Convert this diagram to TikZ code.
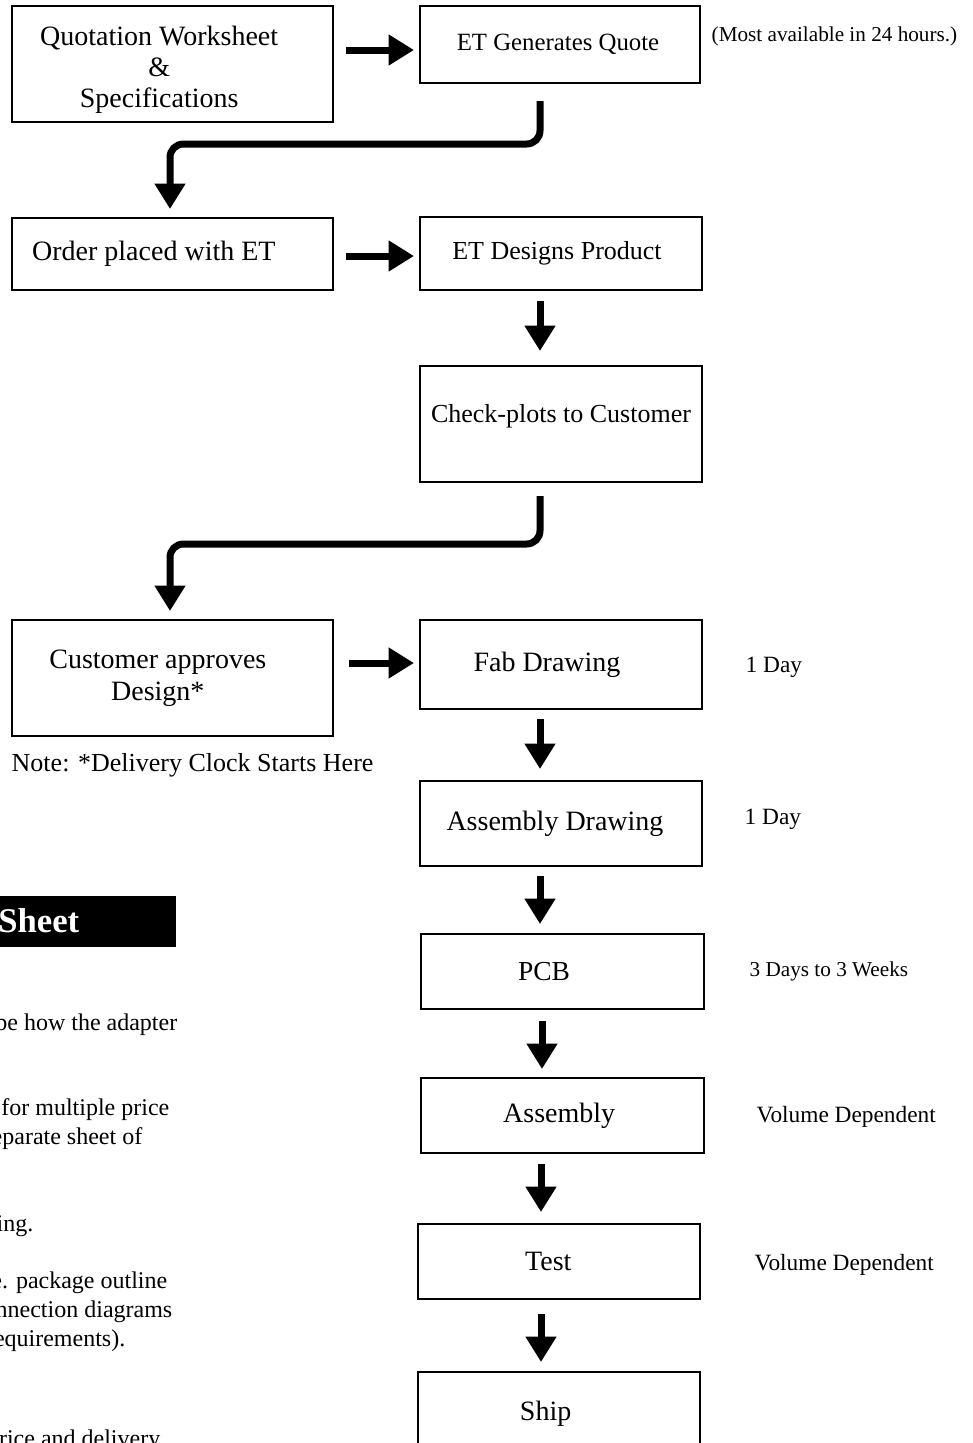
\documentclass[tikz,border=0pt]{standalone}
\usepackage{fontspec}
\setmainfont{Liberation Serif}
\usetikzlibrary{arrows.meta,calc}

\tikzset{
  box/.style={draw,line width=1.5pt,minimum width=211.5pt,inner sep=2pt},
  widebox/.style={box,minimum width=240.75pt},
  every label/.style={font=\fontsize{21}{23.5}\selectfont,align=center},
  flow/.style={line width=5.25pt,-{Triangle[length=19pt,width=22pt]}},
  side/.style={anchor=west,font=\fontsize{17.5}{20}\selectfont},
  cut/.style={anchor=east,font=\fontsize{18}{20}\selectfont},
}

\begin{document}
\begin{tikzpicture}[x=0.75pt,y=-0.75pt]
\useasboundingbox (0,0) rectangle (973,1443);
\clip (0,0) rectangle (973,1443);

% left column
\node[widebox,minimum height=87pt,label={[xshift=-10pt,yshift=-4.5pt,font=\fontsize{21}{23.25}\selectfont]center:Quotation Worksheet\\\&\\Specifications}] (qw) at (172.5,64) {};
\node[widebox,minimum height=54pt,label={[xshift=-14pt]center:Order placed with ET}] (op) at (172.5,254) {};
\node[widebox,minimum height=87pt,label={[xshift=-11pt,font=\fontsize{21}{24}\selectfont]center:Customer approves\\Design*}] (ca) at (172.5,678) {};
\node[anchor=west,font=\fontsize{19.5}{22}\selectfont] (note) at (7,765) {Note: *Delivery Clock Starts Here};

% right column
\node[box,minimum width=210pt,minimum height=57.75pt,label={[xshift=-1.5pt,font=\fontsize{18.6}{21}\selectfont]center:ET Generates Quote}] (gq) at (560,44.5) {};
\node[box,minimum height=54.75pt,label={[xshift=-3pt,font=\fontsize{19.5}{22}\selectfont]center:ET Designs Product}] (dp) at (561,253.5) {};
\node[box,minimum height=87pt,label={[yshift=6pt,font=\fontsize{19.5}{22}\selectfont]center:Check-plots to Customer}] (cp) at (561,424) {};
\node[box,minimum height=66.75pt,label={[xshift=-10.5pt]center:Fab Drawing}] (fd) at (561,664.5) {};
\node[box,minimum height=63.75pt,label={[xshift=-4.5pt]center:Assembly Drawing}] (ad) at (561,823.5) {};
\node[box,minimum width=212.25pt,minimum height=56.25pt,label={[xshift=-13.5pt,font=\fontsize{20.6}{23}\selectfont]center:PCB}] (pcb) at (562,971.5) {};
\node[box,minimum width=212.25pt,minimum height=56.25pt,label={[xshift=-2.5pt]center:Assembly}] (asm) at (562.5,1115.5) {};
\node[box,minimum height=56.25pt,label={[xshift=-8pt]center:Test}] (test) at (559,1261.5) {};
\node[box,minimum height=60pt,label={[xshift=-10pt,yshift=-1pt]center:Ship}] (ship) at (559,1412) {};

% times
\node[side,font=\fontsize{15.9}{18}\selectfont] (t0) at (707,36) {(Most available in 24 hours.)};
\node[side] (t1) at (741,667) {1 Day};
\node[side] (t2) at (740,819) {1 Day};
\node[side,font=\fontsize{15.9}{18}\selectfont] (t3) at (745,971) {3 Days to 3 Weeks};
\node[side] (t4) at (752,1117) {Volume Dependent};
\node[side] (t5) at (750,1265) {Volume Dependent};

% arrows
\draw[flow] ($(qw.east)+(12,-14)$) -- ($(gq.west)+(-5,5.5)$);
\draw[flow,rounded corners=10pt] ($(gq.south)+(-20,17)$) |- ($(op.north)+(-2.5,-73)$) -- ($(op.north)+(-2.5,-8)$);
\draw[flow] ($(op.east)+(12,2)$) -- ($(dp.west)+(-5,2.5)$);
\draw[flow] ($(dp.south)+(-21,10)$) -- ($(cp.north)+(-21,-14)$);
\draw[flow,rounded corners=10pt] ($(cp.south)+(-21,13)$) |- ($(ca.north)+(-2.5,-75)$) -- ($(ca.north)+(-2.5,-8)$);
\draw[flow] ($(ca.east)+(15,-15)$) -- ($(fd.west)+(-5,-1.5)$);
\draw[flow] ($(fd.south)+(-21,9)$) -- ($(ad.north)+(-21,-11)$);
\draw[flow] ($(ad.south)+(-21,9)$) -- ($(pcb.north)+(-22,-9)$);
\draw[flow] ($(pcb.south)+(-20,11)$) -- ($(asm.north)+(-20.5,-8)$);
\draw[flow] ($(asm.south)+(-21.5,10)$) -- ($(test.north)+(-18,-11)$);
\draw[flow] ($(test.south)+(-18,14)$) -- ($(ship.north)+(-18,-9)$);

% cut-off sheet on the left
\fill (-200,896) rectangle (176,947);
\node[anchor=east,text=white,font=\fontsize{26}{28}\selectfont\bfseries] (hdr) at (84,921) {Sheet};
\node[cut] (l1) at (182,1025) {be how the adapter};
\node[cut] (l2) at (174,1110) {for multiple price};
\node[cut] (l3) at (147,1139) {separate sheet of};
\node[cut] (l4) at (38,1226) {ing.};
\node[cut] (l5) at (172,1283) {i.e. package outline};
\node[cut] (l6) at (177,1312) {connection diagrams};
\node[cut] (l7) at (130,1341) {requirements).};
\node[cut] (l8) at (165,1441) {price and delivery};
\end{tikzpicture}
\end{document}
